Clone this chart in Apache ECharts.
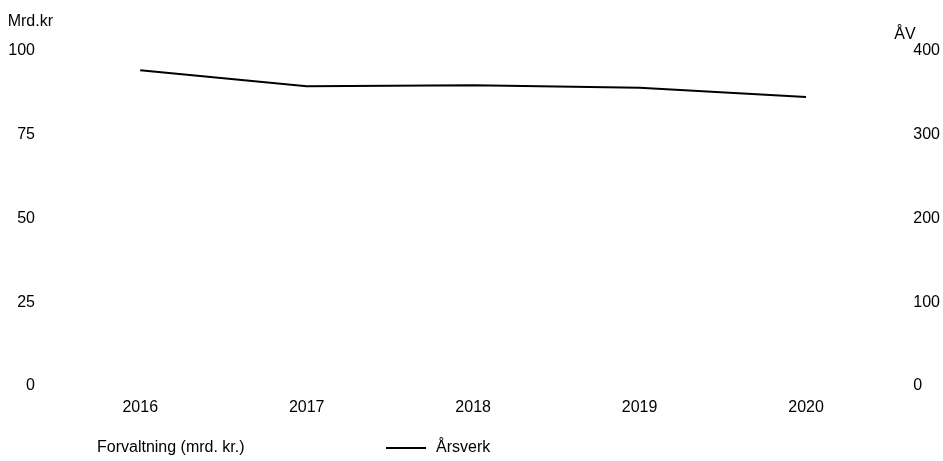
<!DOCTYPE html>
<html>
<head>
<meta charset="utf-8">
<script src="https://cdn.jsdelivr.net/npm/echarts@6/dist/echarts.min.js"></script>
<style>html,body{margin:0;padding:0;background:#fff}#c{width:943px;height:461px}</style>
</head>
<body>
<div id="c"></div>
<script>
const years = ['2016', '2017', '2018', '2019', '2020'];
const forvaltning = [null, null, null, null, null];
const arsverk = [377, 358, 359, 356, 345];
const leftTicks = [0, 25, 50, 75, 100];
const rightTicks = [0, 100, 200, 300, 400];

const font = "'Liberation Sans', Arial, sans-serif";
const legendText = { fontFamily: font, fontSize: 16, color: '#000', padding: [0, 0, 0, 5] };
const chart = echarts.init(document.getElementById('c'));
chart.setOption({
  animation: false,
  backgroundColor: '#fff',
  textStyle: { fontFamily: font },
  grid: { left: 57, right: 52, top: 51, bottom: 75, containLabel: false },
  legend: [
    {
      left: 42, top: 435,
      itemWidth: 40, itemHeight: 14,
      textStyle: legendText,
      data: [{ name: 'Forvaltning (mrd. kr.)', icon: 'rect', itemStyle: { color: '#fff', borderWidth: 0 } }]
    },
    {
      left: 381, top: 435,
      itemWidth: 40, itemHeight: 2,
      textStyle: legendText,
      data: [{ name: 'Årsverk', icon: 'rect', itemStyle: { color: '#000' } }]
    }
  ],
  xAxis: {
    type: 'category', data: years, boundaryGap: true,
    axisLine: { show: false }, axisTick: { show: false },
    axisLabel: { color: '#000', fontSize: 16, fontFamily: font, margin: 14 }
  },
  yAxis: [
    {
      type: 'value', min: leftTicks[0], max: leftTicks[leftTicks.length - 1], interval: 25,
      name: 'Mrd.kr', nameGap: 29,
      nameTextStyle: { color: '#000', fontSize: 16, fontFamily: font, align: 'right', verticalAlign: 'middle', padding: [0, 4, 0, 0] },
      axisLine: { show: false }, axisTick: { show: false }, splitLine: { show: false },
      axisLabel: { color: '#000', fontSize: 16, fontFamily: font, margin: 22 }
    },
    {
      type: 'value', min: rightTicks[0], max: rightTicks[rightTicks.length - 1], interval: 100,
      name: 'ÅV', nameGap: 16,
      nameTextStyle: { color: '#000', fontSize: 16, fontFamily: font, align: 'left', verticalAlign: 'middle', padding: [0, 0, 0, 5] },
      axisLine: { show: false }, axisTick: { show: false }, splitLine: { show: false },
      axisLabel: { color: '#000', fontSize: 16, fontFamily: font, margin: 24 }
    }
  ],
  series: [
    { name: 'Forvaltning (mrd. kr.)', type: 'bar', yAxisIndex: 0, data: forvaltning, itemStyle: { color: '#fff' } },
    { name: 'Årsverk', type: 'line', yAxisIndex: 1, data: arsverk, symbol: 'none',
      lineStyle: { color: '#000', width: 2 }, itemStyle: { color: '#000' } }
  ]
});
</script>
</body>
</html>
